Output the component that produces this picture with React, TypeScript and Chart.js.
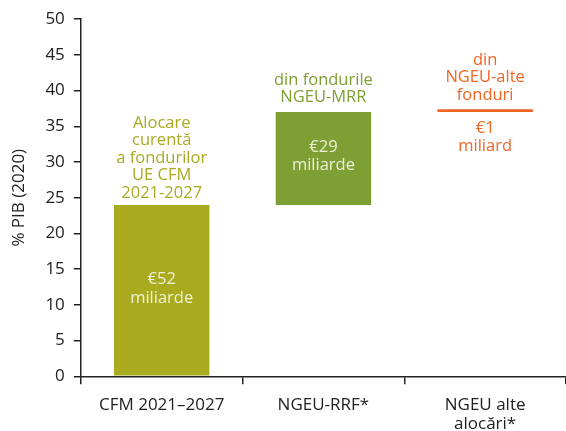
import React, { useEffect, useRef } from "react";
import { Chart, registerables } from "chart.js";

Chart.register(...registerables);

const categories: string[][] = [["CFM 2021–2027"], ["NGEU-RRF*"], ["NGEU alte", "alocări*"]];
const barLow = [0, 24, 37.0];
const barHigh = [24, 37, 37.4];
const aboveLabels: string[][] = [
  ["Alocare", "curentă", "a fondurilor", "UE CFM", "2021-2027"],
  ["din fondurile", "NGEU-MRR"],
  ["din", "NGEU-alte", "fonduri"],
];
const amountLabels: string[][] = [
  ["€52", "miliarde"],
  ["€29", "miliarde"],
  ["€1", "miliard"],
];
const yTicks = [0, 5, 10, 15, 20, 25, 30, 35, 40, 45, 50];

const FONT = "'Open Sans', sans-serif";
const barColors = ["#AAAA1E", "#7E9F33", "#F26522"];
const textColors = ["#A9AA22", "#7E9F33", "#F26522"];
const aboveGap = [12, 14.5, 14];

const annotationPlugin = {
  id: "annotations",
  afterDatasetsDraw(chart: any) {
    const ctx = chart.ctx;
    const xs = chart.scales.x;
    const ys = chart.scales.y;
    ctx.save();
    ctx.font = `16.5px ${FONT}`;
    ctx.textAlign = "center";
    ctx.textBaseline = "middle";
    const lh = 17.5;
    categories.forEach((_, i) => {
      const x = xs.getPixelForValue(i);
      const top = ys.getPixelForValue(barHigh[i]);
      const bottom = ys.getPixelForValue(barLow[i]);
      const above = aboveLabels[i];
      ctx.fillStyle = textColors[i];
      above.forEach((t, k) => {
        const y = top - aboveGap[i] - (above.length - 1 - k) * lh;
        ctx.fillText(t, x, y);
      });
      const amt = amountLabels[i];
      if (i < 2) {
        ctx.fillStyle = "#EEF0D8";
        const c = (top + bottom) / 2 - 2;
        amt.forEach((t, k) => {
          ctx.fillText(t, x, c + (k - (amt.length - 1) / 2) * 18.5);
        });
      } else {
        ctx.fillStyle = textColors[i];
        amt.forEach((t, k) => {
          ctx.fillText(t, x, bottom + 16 + k * 18);
        });
      }
    });
    ctx.restore();
  },
};

export default function App() {
  const ref = useRef<HTMLCanvasElement | null>(null);
  useEffect(() => {
    if (!ref.current) return;
    const chart = new Chart(ref.current, {
      type: "bar",
      data: {
        labels: categories as any,
        datasets: [
          {
            data: barLow.map((l, i) => [l, barHigh[i]]) as any,
            backgroundColor: barColors,
            borderWidth: 0,
            categoryPercentage: 1,
            barPercentage: 0.59,
          },
        ],
      },
      options: {
        animation: false,
        responsive: false,
        maintainAspectRatio: false,
        layout: { padding: { top: 16, right: 0, left: 9, bottom: 0 } },
        plugins: {
          legend: { display: false },
          tooltip: { enabled: false },
        },
        scales: {
          x: {
            offset: true,
            grid: {
              offset: true,
              display: true,
              drawOnChartArea: false,
              drawTicks: true,
              tickLength: 8,
              color: "#222",
              lineWidth: 1.5,
            },
            border: { display: true, color: "#222", width: 1.5 },
            ticks: {
              color: "#222",
              font: { family: FONT, size: 17, lineHeight: 1.08 },
              padding: 12,
              maxRotation: 0,
              autoSkip: false,
            },
          },
          y: {
            min: 0,
            max: 50,
            afterBuildTicks: (scale: any) => {
              scale.ticks = yTicks.map((v) => ({ value: v }));
            },
            grid: {
              display: true,
              drawOnChartArea: false,
              drawTicks: true,
              tickLength: 7,
              color: "#222",
              lineWidth: 1.5,
            },
            border: { display: true, color: "#222", width: 1.5 },
            ticks: {
              color: "#222",
              font: { family: FONT, size: 17 },
              padding: 9,
            },
            title: {
              display: true,
              text: "% PIB (2020)",
              color: "#222",
              font: { family: FONT, size: 17 },
              padding: { top: 0, bottom: 7 },
            },
          },
        },
      },
      plugins: [annotationPlugin],
    });
    return () => chart.destroy();
  }, []);
  return (
    <div
      style={{
        position: "absolute",
        left: 0,
        top: 0,
        width: 566,
        height: 431,
        overflow: "hidden",
      }}
    >
      <canvas ref={ref} width={566} height={445} style={{ width: 566, height: 445, display: "block" }} />
    </div>
  );
}
